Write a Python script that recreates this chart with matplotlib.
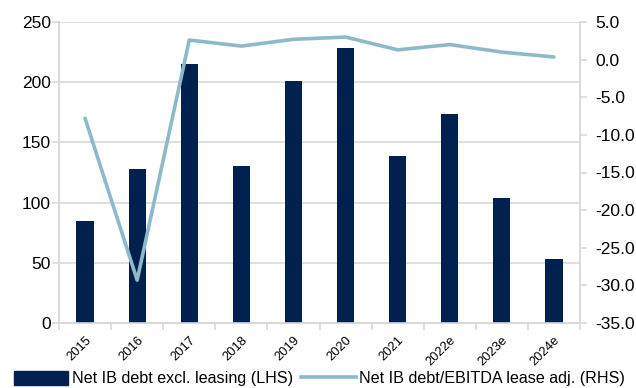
import matplotlib
matplotlib.use("Agg")
import matplotlib.pyplot as plt
import numpy as np

plt.rcParams['font.family'] = ['Liberation Sans', 'DejaVu Sans']

years = ['2015', '2016', '2017', '2018', '2019', '2020', '2021', '2022e', '2023e', '2024e']
net_debt = [85, 128, 215, 130, 201, 228, 139, 174, 104, 53]
debt_ebitda = [-7.8, -29.3, 2.6, 1.8, 2.7, 3.0, 1.3, 2.0, 1.0, 0.35]

NAVY = '#00214d'
TEAL = '#8dbac9'
GRID = '#d9d9d9'

fig = plt.figure(figsize=(6.36, 3.88), dpi=100)
ax = fig.add_axes([59 / 636, 1 - 323 / 388, 521 / 636, 301 / 388])
ax2 = ax.twinx()

x = np.arange(len(years))
ax.bar(x, net_debt, width=0.33, color=NAVY, zorder=3)
ax2.plot(x, debt_ebitda, color=TEAL, lw=2.6, solid_capstyle='round', zorder=4)

ax.set_xlim(-0.5, len(years) - 0.5)
ax.set_ylim(0, 250)
ax.set_yticks(np.arange(0, 251, 50))
rhs_ticks = np.arange(-35, 5.1, 5)
ax2.set_ylim(-35, 5)
ax2.set_yticks(rhs_ticks)
ax2.set_yticklabels([f'{v:.1f}' for v in rhs_ticks])

ax.grid(axis='y', color=GRID, lw=1.2, zorder=0)
ax.set_axisbelow(True)

# category labels at centres, tick marks at category boundaries
ax.set_xticks(x)
ax.set_xticklabels(years, rotation=45, ha='right', rotation_mode='anchor')
ax.set_xticks(np.arange(-0.5, len(years)), minor=True)
ax.tick_params(axis='x', which='major', length=0, labelsize=9.3, pad=8)
ax.tick_params(axis='x', which='minor', length=5, color=GRID, width=1.2)
ax.tick_params(axis='y', length=5, color=GRID, width=1.2, labelsize=12.5, pad=1)
ax2.tick_params(axis='y', length=5, color=GRID, width=1.2, labelsize=12.5, pad=6)

for a in (ax, ax2):
    a.spines['top'].set_visible(False)
    for s in ('left', 'right', 'bottom'):
        a.spines[s].set_color(GRID)
        a.spines[s].set_linewidth(1.2)

bar_handle = plt.Rectangle((0, 0), 1, 1, color=NAVY)
line_handle = plt.Line2D([], [], color=TEAL, lw=2.6)
fig.legend([bar_handle, line_handle],
           ['Net IB debt excl. leasing (LHS)', 'Net IB debt/EBITDA lease adj. (RHS)'],
           loc='lower left', bbox_to_anchor=(12 / 636, 0.0), ncol=2, frameon=False,
           fontsize=11.6, handlelength=3.4, handleheight=0.9, handletextpad=0.2,
           columnspacing=0.5, borderaxespad=0.0, borderpad=0.1)

fig.savefig('out.png', dpi=100, facecolor='white')
